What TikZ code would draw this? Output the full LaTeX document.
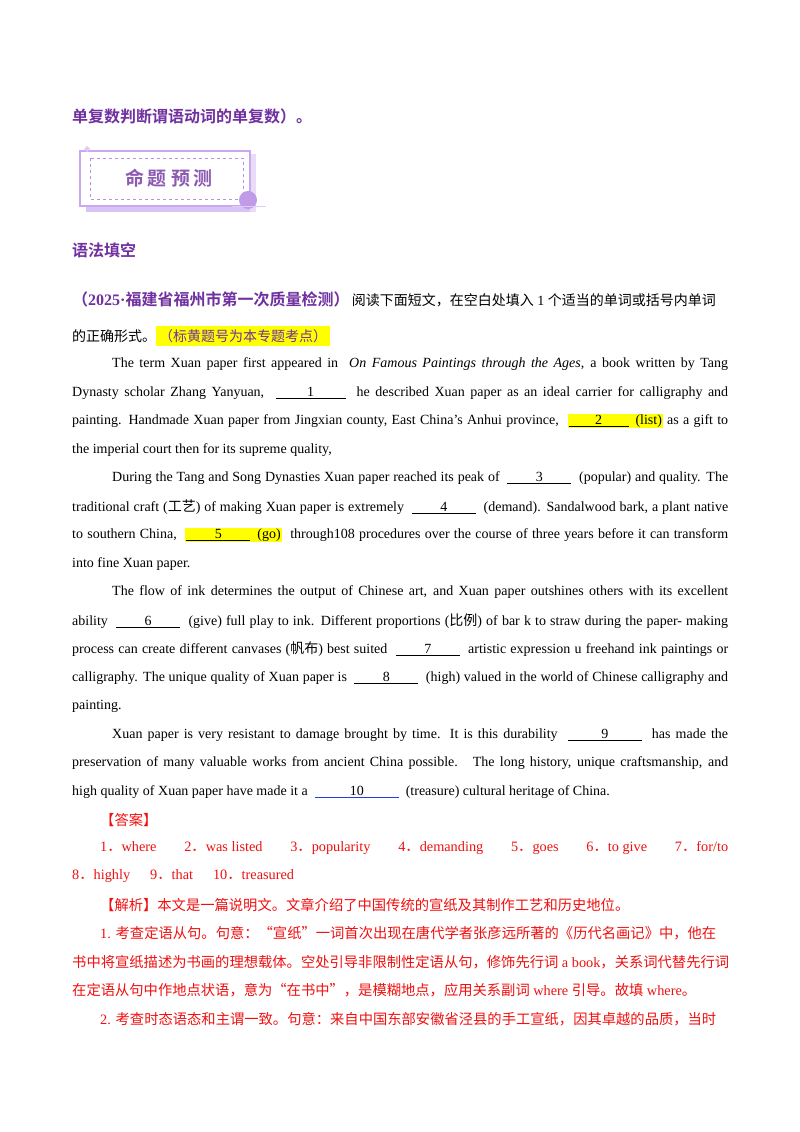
\documentclass[tikz,border=0pt]{standalone}
\usepackage{fontspec}
\setmainfont{Liberation Serif}
\newfontfamily\cjk{Noto Sans CJK SC}[BoldFont={* Bold}]
\usepackage{xcolor}
\definecolor{pur}{HTML}{7030A0}
\definecolor{lpur}{HTML}{C9A8F0}
\definecolor{ans}{HTML}{F01010}
\definecolor{hly}{HTML}{FFFF00}
\definecolor{bl}{HTML}{2040E0}
\newcommand{\blk}[2][66pt]{\underline{\makebox[#1]{#2}}}
\newcommand{\hly}[1]{\colorbox{hly}{#1}}
\begin{document}
\begin{tikzpicture}[x=1pt,y=-1pt,
  ln/.style={anchor=west,inner sep=0pt,font=\fontsize{14}{16}\selectfont},
  rd/.style={anchor=west,inner sep=0pt,text=ans,font=\fontsize{14.3}{16}\selectfont},
  hd/.style={anchor=west,inner sep=0pt,text=pur,font=\fontsize{16}{18}\selectfont\cjk\bfseries}]
\useasboundingbox (0,0) rectangle (800,1132);
\fill[white] (0,0) rectangle (800,1132);
\node[hd] (h1) at (72,116) {单复数判断谓语动词的单复数）。};
% title box
\fill[lpur!70] (86,160) rectangle (256,212);
\fill[lpur!40] (250,154) rectangle (256,212);
\draw[lpur,line width=1.2pt,fill=white] (80,151) rectangle (250,206);
\draw[lpur!80!pur,dashed,line width=0.5pt] (90,158) rectangle (243,199);
\fill[lpur!60!white] (84,149) -- (87,146) -- (90,149) -- (87,152) -- cycle;
\fill[lpur!90!pur] (248,200) circle (9);
\draw[lpur!60,line width=0.8pt] (232,206) -- (266,206);
\node[anchor=center,inner sep=0pt,text=pur!80,font=\fontsize{19}{20}\selectfont\cjk\bfseries] (t) at (169,178) {命\hspace{4pt}题\hspace{4pt}预\hspace{4pt}测};
\node[hd] (h2) at (72,250) {语法填空};
\node[ln] (q1) at (72,299) {\textcolor{pur}{\fontsize{16}{18}\selectfont\cjk\bfseries （}\textcolor{pur}{\fontsize{16}{18}\selectfont\bfseries 2025·}\textcolor{pur}{\fontsize{16}{18}\selectfont\cjk\bfseries 福建省福州市第一次质量检测）}\,{\cjk\fontsize{14}{16}\selectfont 阅读下面短文，在空白处填入} 1 {\cjk\fontsize{14}{16}\selectfont 个适当的单词或括号内单词}};
\node[ln] (q2) at (72,336) {{\cjk\fontsize{14}{16}\selectfont 的正确形式。}\hly{\textcolor{pur}{\cjk\fontsize{14}{16}\selectfont （标黄题号为本专题考点）}}};
% passage
\node[ln] (p1) at (112,364) {\makebox[616pt][s]{The term Xuan paper first appeared in \ \textit{On Famous Paintings through the Ages}, a book written by Tang}};
\node[ln] (p2) at (72,393) {\makebox[656pt][s]{Dynasty scholar Zhang Yanyuan, \ \blk[70pt]{1} \ he described Xuan paper as an ideal carrier for calligraphy and}};
\node[ln] (p3) at (72,421) {\makebox[656pt][s]{painting. Handmade Xuan paper from Jingxian county, East China’s Anhui province, \ \setlength{\fboxsep}{1pt}\hly{\blk[60pt]{2} \ (list)} as a gift to}};
\node[ln] (p4) at (72,450) {the imperial court then for its supreme quality,};
\node[ln] (p5) at (112,478) {\makebox[616pt][s]{During the Tang and Song Dynasties Xuan paper reached its peak of \ \blk[64pt]{3} \ (popular) and quality. The}};
\node[ln] (p6) at (72,507) {\makebox[656pt][s]{traditional craft ({\cjk 工艺}) of making Xuan paper is extremely \ \blk[64pt]{4} \ (demand). Sandalwood bark, a plant native}};
\node[ln] (p7) at (72,535) {\makebox[656pt][s]{to southern China, \ \setlength{\fboxsep}{1pt}\hly{\blk[64pt]{5} \ (go)} \ through108 procedures over the course of three years before it can transform}};
\node[ln] (p8) at (72,564) {into fine Xuan paper.};
\node[ln] (p9) at (112,592) {\makebox[616pt][s]{The flow of ink determines the output of Chinese art, and Xuan paper outshines others with its excellent}};
\node[ln] (p10) at (72,621) {\makebox[656pt][s]{ability \ \blk[64pt]{6} \ (give) full play to ink. Different proportions ({\cjk 比例}) of bar k to straw during the paper- making}};
\node[ln] (p11) at (72,649) {\makebox[656pt][s]{process can create different canvases ({\cjk 帆布}) best suited \ \blk[64pt]{7} \ artistic expression u freehand ink paintings or}};
\node[ln] (p12) at (72,678) {\makebox[656pt][s]{calligraphy. The unique quality of Xuan paper is \ \blk[64pt]{8} \ (high) valued in the world of Chinese calligraphy and}};
\node[ln] (p13) at (72,706) {painting.};
\node[ln] (p14) at (112,735) {\makebox[616pt][s]{Xuan paper is very resistant to damage brought by time. It is this durability \ \blk[74pt]{9} \ has made the}};
\node[ln] (p15) at (72,763) {\makebox[656pt][s]{preservation of many valuable works from ancient China possible. \ The long history, unique craftsmanship, and}};
\node[ln] (p16) at (72,792) {high quality of Xuan paper have made it a \ \textcolor{bl}{\underline{\textcolor{black}{\makebox[84pt]{10}}}} \ (treasure) cultural heritage of China.};
% answers
\node[rd] (a0) at (100,820) {{\cjk 【答案】}};
\node[rd] (a1) at (100,848) {\makebox[628pt][l]{1{\cjk ．}where\hfill 2{\cjk ．}was listed\hfill 3{\cjk ．}popularity\hfill 4{\cjk ．}demanding\hfill 5{\cjk ．}goes\hfill 6{\cjk ．}to give\hfill 7{\cjk ．}for/to}};
\node[rd] (a2) at (72,876) {8{\cjk ．}highly\hspace{20pt}9{\cjk ．}that\hspace{20pt}10{\cjk ．}treasured};
\node[rd] (a3) at (100,905) {\cjk 【解析】本文是一篇说明文。文章介绍了中国传统的宣纸及其制作工艺和历史地位。};
\node[rd] (a4) at (100,933) {1. {\cjk 考查定语从句。句意：“宣纸”一词首次出现在唐代学者张彦远所著的《历代名画记》中，他在}};
\node[rd] (a5) at (72,962) {{\cjk 书中将宣纸描述为书画的理想载体。空处引导非限制性定语从句，修饰先行词} a book{\cjk ，关系词代替先行词}};
\node[rd] (a6) at (72,990) {{\cjk 在定语从句中作地点状语，意为“在书中”，是模糊地点，应用关系副词} where {\cjk 引导。故填} where{\cjk 。}};
\node[rd] (a7) at (100,1019) {2. {\cjk 考查时态语态和主谓一致。句意：来自中国东部安徽省泾县的手工宣纸，因其卓越的品质，当时}};
\end{tikzpicture}
\end{document}
